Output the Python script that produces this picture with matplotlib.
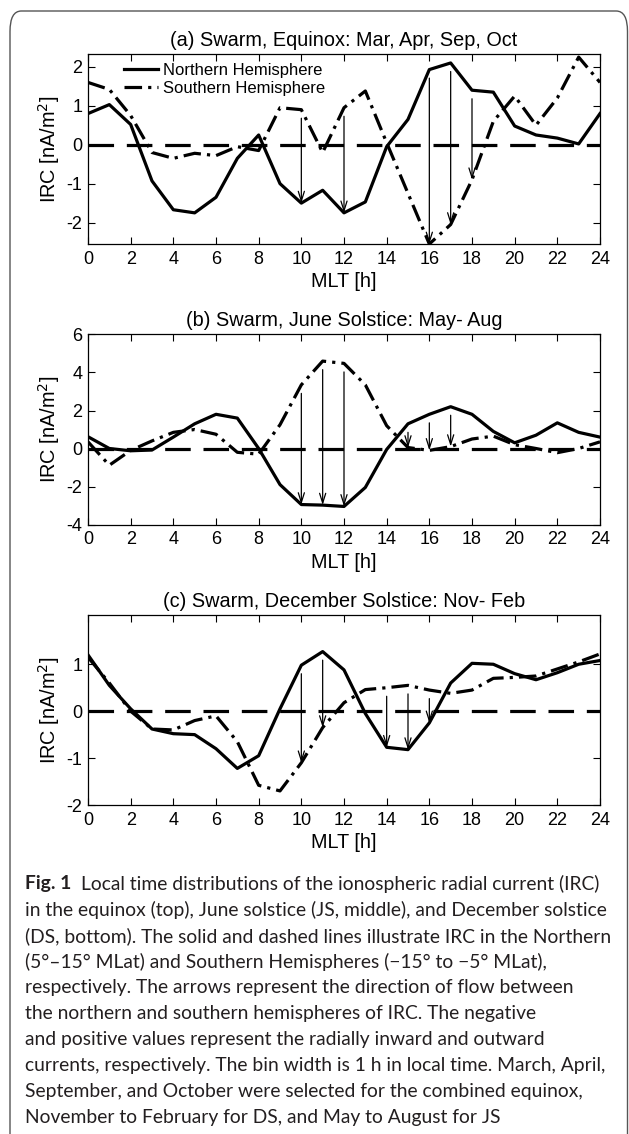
import numpy as np
import matplotlib
matplotlib.use('Agg')
import matplotlib.pyplot as plt
from matplotlib.patches import FancyBboxPatch

plt.rcParams['font.family'] = 'Liberation Sans'
plt.rcParams['xtick.direction'] = 'in'
plt.rcParams['ytick.direction'] = 'in'
plt.rcParams['axes.unicode_minus'] = False

# ---- data (IRC in nA/m^2 per 1 h MLT bin) ----
mlt = np.arange(0, 25)

eq_north = [0.8, 1.03, 0.52, -0.93, -1.67, -1.75, -1.35, -0.35, 0.25, -1.0, -1.5, -1.17,
            -1.75, -1.47, -0.05, 0.65, 1.93, 2.1, 1.4, 1.35, 0.48, 0.25, 0.17, 0.02, 0.8]
eq_south = [1.6, 1.42, 0.75, -0.2, -0.35, -0.22, -0.28, -0.05, -0.15, 0.95, 0.9, -0.2,
            0.95, 1.38, 0.05, -1.25, -2.55, -2.05, -0.9, 0.6, 1.25, 0.5, 1.2, 2.25, 1.6]

js_north = [0.62, 0.0, -0.12, -0.08, 0.6, 1.3, 1.8, 1.6, 0.0, -1.9, -2.95, -2.98,
            -3.05, -2.05, -0.05, 1.3, 1.8, 2.2, 1.8, 0.9, 0.3, 0.7, 1.35, 0.85, 0.6]
js_south = [0.35, -0.88, -0.1, 0.4, 0.85, 1.0, 0.75, -0.2, -0.3, 1.25, 3.35, 4.6,
            4.48, 3.35, 1.2, 0.05, -0.1, 0.1, 0.5, 0.65, 0.2, 0.0, -0.22, 0.0, 0.35]

ds_north = [1.2, 0.55, 0.05, -0.38, -0.48, -0.5, -0.8, -1.22, -0.95, 0.05, 0.98, 1.27,
            0.88, -0.05, -0.77, -0.82, -0.25, 0.6, 1.02, 1.0, 0.8, 0.67, 0.82, 1.0, 1.08]
ds_south = [1.15, 0.6, 0.0, -0.38, -0.4, -0.2, -0.1, -0.65, -1.58, -1.7, -1.1, -0.35,
            0.18, 0.46, 0.5, 0.55, 0.45, 0.38, 0.45, 0.7, 0.72, 0.75, 0.9, 1.05, 1.22]

eq_arrows = [10, 12, 16, 17, 18]
js_arrows = [10, 11, 12, 15, 16, 17]
ds_arrows = [10, 11, 14, 15, 16]

titles = ['(a) Swarm, Equinox: Mar, Apr, Sep, Oct',
          '(b) Swarm, June Solstice: May- Aug',
          '(c) Swarm, December Solstice: Nov- Feb']

caption = [
    'Local time distributions of the ionospheric radial current (IRC)',
    'in the equinox (top), June solstice (JS, middle), and December solstice',
    '(DS, bottom). The solid and dashed lines illustrate IRC in the Northern',
    '(5°\u201315° MLat) and Southern Hemispheres (\u221215° to \u22125° MLat),',
    'respectively. The arrows represent the direction of flow between',
    'the northern and southern hemispheres of IRC. The negative',
    'and positive values represent the radially inward and outward',
    'currents, respectively. The bin width is 1 h in local time. March, April,',
    'September, and October were selected for the combined equinox,',
    'November to February for DS, and May to August for JS',
]

W, H = 629, 1134
fig = plt.figure(figsize=(W / 100, H / 100), dpi=100)

# rounded frame round the figure (open at bottom, cut by the page)
frame = FancyBboxPatch((10 / W, -0.05), 617.5 / W, (H - 11) / H + 0.05,
                       boxstyle='round,pad=0,rounding_size=0.018',
                       transform=fig.transFigure, fill=False,
                       edgecolor='#555555', linewidth=1.0)
fig.patches.append(frame)

panels = [
    (eq_north, eq_south, eq_arrows, (-2.55, 2.33), [-2, -1, 0, 1, 2], 244),
    (js_north, js_south, js_arrows, (-4, 6), [-4, -2, 0, 2, 4, 6], 524.5),
    (ds_north, ds_south, ds_arrows, (-2, 2.05), [-2, -1, 0, 1], 805),
]

ax_left, ax_w, ax_h = 88, 512, 190
for i, (north, south, arr_h, ylim, yticks, bottom_px) in enumerate(panels):
    ax = fig.add_axes([ax_left / W, (H - bottom_px) / H, ax_w / W, ax_h / H])
    north = np.asarray(north)
    south = np.asarray(south)

    ax.plot([0, 24], [0, 0], color='black', lw=2.3, dashes=(8, 4))
    ln_n, = ax.plot(mlt, north, color='black', lw=2.3, label='Northern Hemisphere')
    ln_s, = ax.plot(mlt, south, color='black', lw=2.3, dashes=(5.5, 1.9, 1, 1.9),
                    label='Southern Hemisphere')

    # arrows from the upper curve down to the lower one
    off = 0.045 * (ylim[1] - ylim[0])
    for h in arr_h:
        hi = max(north[h], south[h])
        lo = min(north[h], south[h])
        ax.annotate('', xy=(h, lo), xytext=(h, hi - off),
                    arrowprops=dict(arrowstyle='->,head_length=0.7,head_width=0.22',
                                    color='black', lw=0.9, shrinkA=0, shrinkB=0))

    ax.set_xlim(0, 24)
    ax.set_ylim(*ylim)
    ax.set_xticks(np.arange(0, 25, 2))
    ax.set_yticks(yticks)
    ax.tick_params(axis='both', labelsize=13, length=5, width=0.8,
                   top=True, right=True)
    ax.tick_params(axis='x', pad=5)
    ax.tick_params(axis='y', pad=4)
    for sp in ax.spines.values():
        sp.set_linewidth(0.9)
    ax.set_xlabel('MLT [h]', fontsize=14.3, labelpad=3)
    ax.set_ylabel('IRC [nA/m$^2$]', fontsize=14.3)
    ax.yaxis.set_label_coords(-0.05, 0.5)
    ax.set_title(titles[i], fontsize=14.3, pad=6)

    if i == 0:
        ax.legend(handles=[ln_n, ln_s], loc='upper left', frameon=False, fontsize=12,
                  handlelength=2.0, handletextpad=0.3, labelspacing=0.15,
                  borderaxespad=0.1, bbox_to_anchor=(0.055, 0.995))

# caption
renderer = fig.canvas.get_renderer()
cap_font = 'Lato'
cap_size = 13.9
x0 = 25 / W
y0 = 884
step = 26
t = fig.text(x0, 1 - y0 / H, 'Fig. 1', fontsize=cap_size, family=cap_font,
             fontweight='bold', va='center', ha='left', color='#231f20')
bb = t.get_window_extent(renderer)
fig.text(bb.x1 / W + 10 / W, 1 - y0 / H, caption[0], fontsize=cap_size,
         family=cap_font, va='center', ha='left', color='#231f20')
for k, line in enumerate(caption[1:], start=1):
    fig.text(x0, 1 - (y0 + k * step) / H, line, fontsize=cap_size, family=cap_font,
             va='center', ha='left', color='#231f20')

fig.savefig('out.png', dpi=100)
